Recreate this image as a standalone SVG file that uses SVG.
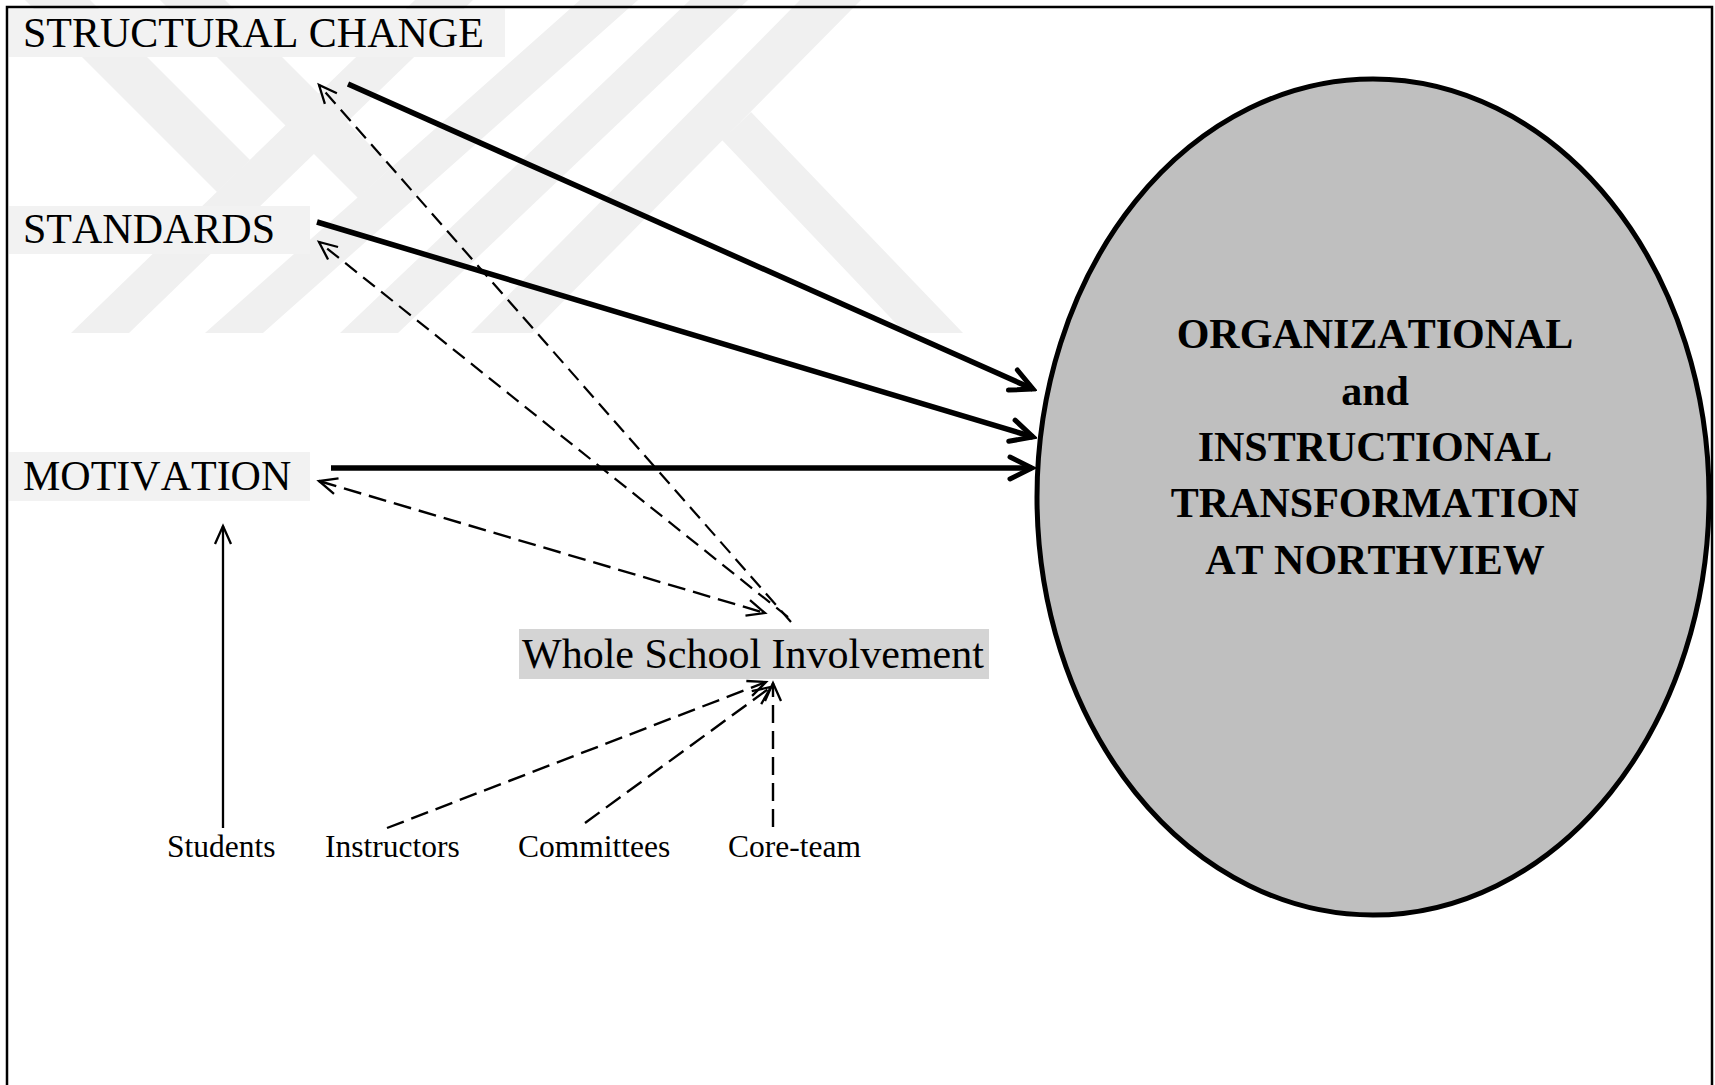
<svg xmlns="http://www.w3.org/2000/svg" width="1715" height="1085" viewBox="0 0 1715 1085">
<style>
text{font-kerning:none}
.lbl{font-family:"Liberation Serif","Times New Roman",serif;font-size:42px;fill:#000}
.sm{font-family:"Liberation Serif","Times New Roman",serif;font-size:31.5px;fill:#000}
.big{font-family:"Liberation Serif","Times New Roman",serif;font-size:42px;font-weight:bold;fill:#000;text-anchor:middle}
.thick{stroke:#000;stroke-width:5.5;fill:none;marker-end:url(#hb)}
.dash{stroke:#000;stroke-width:2.4;fill:none;stroke-dasharray:18 8}
.dash2{stroke:#000;stroke-width:2.2;fill:none;stroke-dasharray:15 8}
.wm{fill:#f0f0f0}
</style>
<defs>
<marker id="hb" viewBox="-30 -16 34 32" refX="0" refY="0" markerWidth="34" markerHeight="32" markerUnits="userSpaceOnUse" orient="auto">
<path d="M-22,-11 L0,0 L-22,11" fill="none" stroke="#000" stroke-width="5" stroke-linecap="round" stroke-linejoin="miter"/>
</marker>
<marker id="ha" viewBox="-22 -12 26 24" refX="0" refY="0" markerWidth="26" markerHeight="24" markerUnits="userSpaceOnUse" orient="auto-start-reverse">
<path d="M-18,-8 L0,0 L-18,8" fill="none" stroke="#000" stroke-width="2.3" stroke-dasharray="none"/>
</marker>
</defs>
<rect x="0" y="0" width="1715" height="1085" fill="#fff"/>
<g id="watermark">
<polygon class="wm" points="71,333 129,333 473,0 415,0"/>
<polygon class="wm" points="205,333 263,333 638,0 580,0"/>
<polygon class="wm" points="340,333 398,333 748,0 690,0"/>
<polygon class="wm" points="471,333 532,333 861,0 800,0"/>
<polygon class="wm" points="25,0 90,0 250,160 217,192"/>
<polygon class="wm" points="160,0 225,0 392,167 358,198"/>
<polygon class="wm" points="722,140 751,112 963,333 905,333"/>
</g>
<rect x="7" y="7" width="1705" height="1200" fill="none" stroke="#000" stroke-width="2.5"/>
<g id="connectors">
<line class="thick" x1="348" y1="84" x2="1033" y2="389"/>
<line class="thick" x1="317" y1="222" x2="1033" y2="437"/>
<line class="thick" x1="331" y1="468" x2="1032" y2="468"/>
<line class="dash2" x1="791" y1="622" x2="319" y2="85" marker-end="url(#ha)"/>
<line class="dash2" x1="788" y1="617" x2="319" y2="242" marker-end="url(#ha)"/>
<line class="dash" x1="319" y1="481" x2="765" y2="613" marker-start="url(#ha)" marker-end="url(#ha)"/>
<line class="dash" x1="387" y1="828" x2="766" y2="682" marker-end="url(#ha)"/>
<line class="dash" x1="585" y1="823" x2="771" y2="687" marker-end="url(#ha)"/>
<line class="dash" x1="773" y1="827" x2="773" y2="683" marker-end="url(#ha)"/>
<line x1="223" y1="828" x2="223" y2="526" stroke="#000" stroke-width="2.3" marker-end="url(#ha)"/>
</g>
<g id="node-structural">
<rect x="9" y="9" width="496" height="48" fill="#f2f2f2"/>
<text class="lbl" x="23" y="47">STRUCTURAL CHANGE</text>
</g>
<g id="node-standards">
<rect x="9" y="206" width="301" height="48" fill="#f2f2f2"/>
<text class="lbl" x="23" y="243">STANDARDS</text>
</g>
<g id="node-motivation">
<rect x="9" y="452" width="301" height="49" fill="#f2f2f2"/>
<text class="lbl" x="23" y="490">MOTIVATION</text>
</g>
<g id="node-wsi">
<rect x="519" y="629" width="470" height="50" fill="#d4d4d4"/>
<text class="lbl" x="522" y="668">Whole School Involvement</text>
</g>
<g id="node-students"><text class="sm" x="167" y="857">Students</text></g>
<g id="node-instructors"><text class="sm" x="325" y="857">Instructors</text></g>
<g id="node-committees"><text class="sm" x="518" y="857">Committees</text></g>
<g id="node-coreteam"><text class="sm" x="728" y="857">Core-team</text></g>
<g id="node-outcome">
<ellipse cx="1373" cy="497" rx="336" ry="418" fill="#bfbfbf" stroke="#000" stroke-width="5"/>
<text class="big" x="1375" y="348">ORGANIZATIONAL</text>
<text class="big" x="1375" y="405">and</text>
<text class="big" x="1375" y="461">INSTRUCTIONAL</text>
<text class="big" x="1375" y="517">TRANSFORMATION</text>
<text class="big" x="1375" y="574">AT NORTHVIEW</text>
</g>
</svg>
